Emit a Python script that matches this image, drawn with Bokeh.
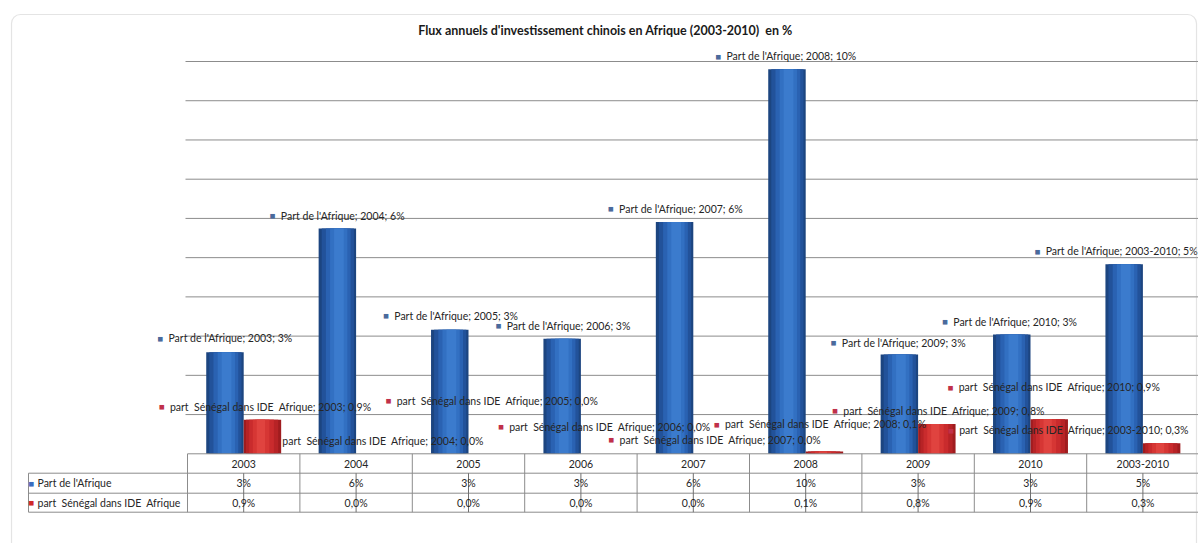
import numpy as np
from bokeh.plotting import figure
from bokeh.models import Range1d, BoxAnnotation
from bokeh.core.properties import value
from bokeh.embed import file_html
from bokeh.resources import INLINE

# ---------------- data ----------------
title_text = "Flux annuels d'investissement chinois en Afrique (2003-2010)  en %"
categories = ["2003", "2004", "2005", "2006", "2007", "2008", "2009", "2010", "2003-2010"]
series_names = ["Part de l'Afrique", "part  Sénégal dans IDE  Afrique"]
part_afrique = [2.59, 5.74, 3.16, 2.93, 5.91, 9.80, 2.53, 3.04, 4.83]
part_senegal = [0.87, 0.0, 0.0, 0.0, 0.0, 0.06, 0.76, 0.88, 0.27]
grid_values = [1, 2, 3, 4, 5, 6, 7, 8, 9, 10]

# label placement (screen-pixel offsets from each bar top, style only)
blue_dx = [-64, -64, -63, -63, -63, -68, -65, -66, -86]
blue_dy = [-14, -13, -14, -13, -13, -13, -12, -13, -13]
red_dx = [-100, -100, -98, -98, -100, -107, -101, -98, -210]
red_dy = [-13, -13, -53, -27, -14, -27, -13, -32, -13]
red_marker_alpha = [1, 0, 1, 1, 1, 1, 1, 1, 1]

# ---------------- layout constants ----------------
W, H = 1198, 543
X0_PX, CAT_PX = 187.0, 112.4
Y0_PX, UNIT_PX = 453.3, 39.23


def px2x(px):
    return (px - X0_PX) / CAT_PX


def px2y(py):
    return (Y0_PX - py) / UNIT_PX


def keep_spaces(s):
    # SVG collapses runs of spaces; keep the double spaces visible
    return s.replace("  ", " \u00a0")


FONT = value("Lato")
n = len(categories)
xs = np.arange(n) + 0.5
BAR_W = 1.0 / 3.0
blue_x = xs - BAR_W / 2
red_x = xs + BAR_W / 2

p = figure(width=W, height=H,
           x_range=Range1d(px2x(0), px2x(W)),
           y_range=Range1d(px2y(H), px2y(0)),
           x_axis_type=None, y_axis_type=None,
           toolbar_location=None, output_backend="svg",
           min_border=0, outline_line_color=None,
           background_fill_color="white", border_fill_color="white")

# outer rounded border
p.add_layout(BoxAnnotation(left=px2x(11), right=px2x(1196), top=px2y(14), bottom=px2y(600),
                           fill_alpha=0, line_color="#a6a6a6", line_width=1.2,
                           border_radius=9))

# gridlines
p.segment(x0=[px2x(185)] * len(grid_values), x1=[px2x(1198)] * len(grid_values),
          y0=grid_values, y1=grid_values, line_color="#8c8c8c", line_width=1)

# bars with cylinder-like shading
blue_layers = [(1.00, "#1c4580", 0.0), (0.86, "#22529a", 0.004), (0.66, "#2a62b2", 0.008),
               (0.46, "#3270c2", 0.012), (0.26, "#3b7bcd", 0.014)]
red_layers = [(1.00, "#a01c1f", 0.0), (0.86, "#b72326", -0.003), (0.66, "#c92b2d", -0.008),
              (0.44, "#d63634", -0.012), (0.22, "#e0433f", -0.014)]
for frac, col, shift in blue_layers:
    p.vbar(x=blue_x + shift, top=part_afrique, bottom=0, width=BAR_W * frac,
           fill_color=col, line_color=None)
for frac, col, shift in red_layers:
    p.vbar(x=red_x + shift, top=part_senegal, bottom=0, width=BAR_W * frac,
           fill_color=col, line_color=None)

# data labels
blue_labels = [f"{series_names[0]}; {c}; {round(v):.0f}%" for c, v in zip(categories, part_afrique)]
red_labels = [keep_spaces(f"{series_names[1]}; {c}; " + f"{v:.1f}%".replace(".", ","))
              for c, v in zip(categories, part_senegal)]

LBL_SIZE = "10.5px"
SQ_SIZE = "9.5px"
p.text(x=blue_x, y=part_afrique, text=["■"] * n,
       x_offset=[d - 3.5 for d in blue_dx], y_offset=blue_dy,
       text_font_size=SQ_SIZE, text_align="left", text_baseline="middle",
       text_color="#4a6a9c")
p.text(x=blue_x, y=part_afrique, text=blue_labels,
       x_offset=[d + 7.5 for d in blue_dx], y_offset=blue_dy, text_font=FONT,
       text_font_size=LBL_SIZE, text_align="left", text_baseline="middle",
       text_color="#262626")
p.text(x=red_x, y=part_senegal, text=["■"] * n,
       x_offset=[d - 3.5 for d in red_dx], y_offset=red_dy,
       text_font_size=SQ_SIZE, text_align="left", text_baseline="middle",
       text_color="#c0304a", text_alpha=red_marker_alpha)
p.text(x=red_x, y=part_senegal, text=red_labels,
       x_offset=[d + 7.5 for d in red_dx], y_offset=red_dy, text_font=FONT,
       text_font_size=LBL_SIZE, text_align="left", text_baseline="middle",
       text_color="#262626")

# ---------------- data table ----------------
tbl_top, tbl_r1, tbl_r2, tbl_bot = 453.3, 472.7, 492.7, 511.7
tbl_left_px = 28
line_col = "#8c8c8c"
x_right = float(n)
p.segment(x0=[0, px2x(tbl_left_px), px2x(tbl_left_px), px2x(tbl_left_px)],
          x1=[x_right] * 4,
          y0=[px2y(tbl_top), px2y(tbl_r1), px2y(tbl_r2), px2y(tbl_bot)],
          y1=[px2y(tbl_top), px2y(tbl_r1), px2y(tbl_r2), px2y(tbl_bot)],
          line_color=line_col, line_width=1)
bounds = np.arange(n + 1)
p.segment(x0=bounds, x1=bounds, y0=[px2y(tbl_top)] * (n + 1), y1=[px2y(tbl_bot)] * (n + 1),
          line_color=line_col, line_width=1)
p.segment(x0=[px2x(tbl_left_px)], x1=[px2x(tbl_left_px)], y0=[px2y(tbl_r1)], y1=[px2y(tbl_bot)],
          line_color=line_col, line_width=1)
p.segment(x0=xs, x1=xs, y0=[px2y(tbl_r1)] * n, y1=[px2y(tbl_bot)] * n,
          line_color="#6f6f6f", line_width=1)

row_y = [px2y((tbl_top + tbl_r1) / 2), px2y((tbl_r1 + tbl_r2) / 2), px2y((tbl_r2 + tbl_bot) / 2)]
p.text(x=xs, y=[row_y[0]] * n, text=categories, text_font=FONT, text_font_size="10.5px",
       text_align="center", text_baseline="middle", text_color="#262626")
p.text(x=xs, y=[row_y[1]] * n, text=[f"{round(v):.0f}%" for v in part_afrique],
       text_font=FONT, text_font_size="10.5px",
       text_align="center", text_baseline="middle", text_color="#262626")
p.text(x=xs, y=[row_y[2]] * n, text=[f"{v:.1f}%".replace(".", ",") for v in part_senegal],
       text_font=FONT, text_font_size="10.5px",
       text_align="center", text_baseline="middle", text_color="#262626")

p.text(x=[px2x(28), px2x(28)], y=row_y[1:], text=["■", "■"],
       text_font_size="9.5px", text_align="left", text_baseline="middle",
       text_color=["#3a6cc0", "#d02828"])
p.text(x=[px2x(37), px2x(37)], y=row_y[1:], text=[keep_spaces(s) for s in series_names],
       text_font=FONT, text_font_size="10.5px", text_align="left", text_baseline="middle",
       text_color="#262626")

# title
p.text(x=[px2x(605)], y=[px2y(30)], text=[keep_spaces(title_text)], text_font=FONT,
       text_font_size="12.5px", text_font_style="bold", text_align="center",
       text_baseline="middle", text_color="#1a1a1a")

open("out.html", "w").write(file_html(p, INLINE))
